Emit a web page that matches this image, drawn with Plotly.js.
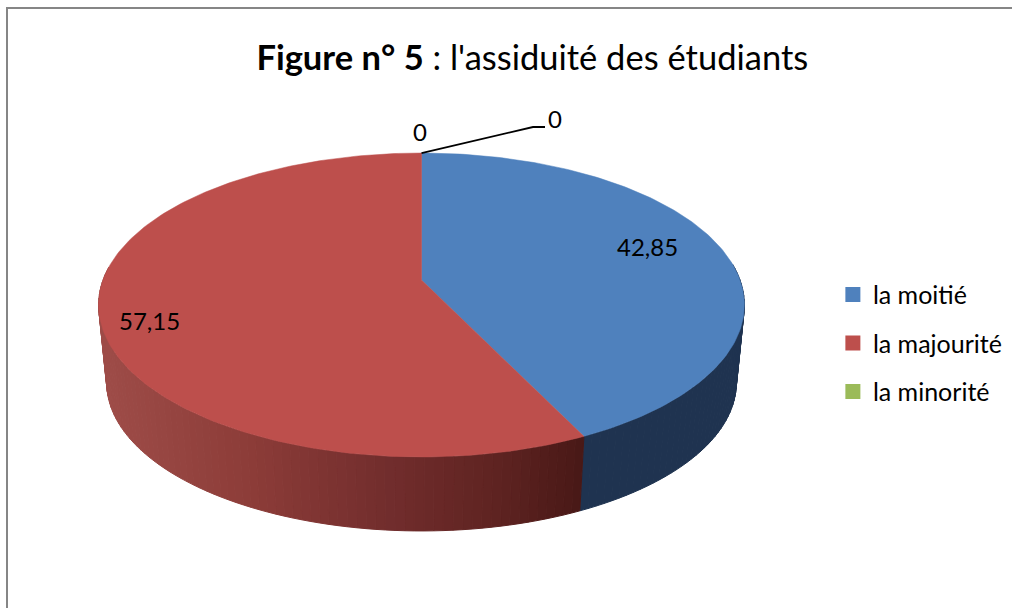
<!DOCTYPE html>
<html>
<head>
<meta charset="utf-8">
<script src="https://cdn.plot.ly/plotly-3.0.1.min.js"></script>
<style>html,body{margin:0;padding:0;background:#fff}</style>
</head>
<body>
<div id="chart" style="width:1012px;height:608px"></div>
<script>
// chart values
const categories = ['la moitié', 'la majourité', 'la minorité', ''];
const shares = [42.85, 57.15, 0, 0];
const topColors = ['#4f81bd', '#bd4f4c', '#9bbb59', '#8064a2'];

// tilted disc, the axes below run in page pixels
const cx = 421.5, apexY = 280, radius = 318.5;
const tiltA = -101.8, tiltC = 0.1645;
const lowerY = 358.4, lowerScale = 0.975;

function rimTop(deg) {
    const a = deg * Math.PI / 180, u = Math.sin(a), v = Math.cos(a);
    const w = 1 + tiltC * v;
    return [cx + radius * u / w, (tiltA * v + apexY) / w];
}
function rimBottom(deg) {
    const p = rimTop(deg);
    return [cx + lowerScale * (p[0] - cx), lowerY + lowerScale * (p[1] - apexY)];
}

// shade of the side wall, left to right
const redStops = [[100, [158, 76, 72]], [250, [140, 60, 56]], [385, [114, 45, 45]], [500, [94, 35, 33]], [585, [72, 24, 22]]];
function redWall(x) {
    let i = 0;
    while (i < redStops.length - 2 && x > redStops[i + 1][0]) i++;
    const [x0, c0] = redStops[i], [x1, c1] = redStops[i + 1];
    const t = Math.max(0, Math.min(1, (x - x0) / (x1 - x0)));
    return 'rgb(' + c0.map((c, k) => Math.round(c + (c1[k] - c) * t)).join(',') + ')';
}

const traces = [];
const total = shares.reduce((a, b) => a + b, 0);
const sliceStart = [];
let acc = 0;
shares.forEach(s => { sliceStart.push(acc / total * 360); acc += s; });

// side wall strips
shares.forEach((s, i) => {
    const a0 = sliceStart[i], a1 = a0 + s / total * 360;
    const n = Math.ceil((a1 - a0) / 1.5);
    for (let k = 0; k < n; k++) {
        const d0 = a0 + (a1 - a0) * k / n, d1 = a0 + (a1 - a0) * (k + 1) / n;
        if (Math.cos((d0 + d1) / 2 * Math.PI / 180) > 0.1) continue;
        const p = [rimTop(d0), rimTop(d1), rimBottom(d1), rimBottom(d0), rimTop(d0)];
        const color = i === 0 ? '#1f3350' : redWall((p[0][0] + p[1][0]) / 2);
        traces.push({
            x: p.map(q => q[0]), y: p.map(q => q[1]),
            mode: 'lines', fill: 'toself', fillcolor: color,
            line: {color: color, width: 1},
            showlegend: false, hoverinfo: 'skip'
        });
    }
});

// top faces
shares.forEach((s, i) => {
    if (s === 0) return;
    const a0 = sliceStart[i], a1 = a0 + s / total * 360;
    const xs = [cx], ys = [apexY];
    for (let d = a0; d < a1; d += 1) {
        const p = rimTop(d);
        xs.push(p[0]); ys.push(p[1]);
    }
    const end = rimTop(a1);
    xs.push(end[0], cx); ys.push(end[1], apexY);
    traces.push({
        x: xs, y: ys, mode: 'lines', fill: 'toself', fillcolor: topColors[i],
        line: {color: topColors[i], width: 0.5},
        name: categories[i], showlegend: false, hoverinfo: 'name'
    });
});

// legend entries
categories.forEach((c, i) => {
    if (!c) return;
    traces.push({
        x: [-200], y: [-200], mode: 'markers', name: c, legendgroup: c,
        marker: {symbol: 'square', size: 15, color: topColors[i]},
        hoverinfo: 'skip'
    });
});

// leader line of the last label
const start = rimTop(0);
traces.push({
    x: [start[0], 533, 545], y: [start[1], 127, 127], mode: 'lines',
    line: {color: '#000', width: 1.8}, showlegend: false, hoverinfo: 'skip'
});

const labelText = shares.map(v => String(v).replace('.', ','));
const labelPos = [[647, 246], [149, 320], [420, 131], [555, 118]];
const annotations = labelText.map((t, i) => ({
    text: t, x: labelPos[i][0], y: labelPos[i][1],
    xref: 'x', yref: 'y', showarrow: false,
    xanchor: 'center', yanchor: 'middle'
}));

const layout = {
    width: 1012, height: 608,
    margin: {l: 0, r: 0, t: 0, b: 0},
    paper_bgcolor: '#fff', plot_bgcolor: '#fff',
    font: {family: 'Lato, Carlito, sans-serif', size: 24, color: '#000'},
    title: {
        text: "<b>Figure n° 5</b> : l'assiduité des étudiants",
        font: {family: 'Lato, sans-serif', size: 34.5, color: '#000'},
        x: 0.526, xanchor: 'center', y: 0.904, yanchor: 'middle'
    },
    xaxis: {range: [0, 1012], visible: false, fixedrange: true},
    yaxis: {range: [608, 0], visible: false, fixedrange: true},
    legend: {
        x: 0.823, y: 0.553, xanchor: 'left', yanchor: 'top',
        tracegroupgap: 13, itemwidth: 30,
        font: {size: 25}, bgcolor: 'rgba(0,0,0,0)'
    },
    annotations: annotations,
    shapes: [{
        type: 'path', xref: 'x', yref: 'y',
        path: 'M 7 608 L 7 8 L 1012 8',
        line: {color: '#868686', width: 2}
    }]
};

Plotly.newPlot('chart', traces, layout, {displayModeBar: false, responsive: false});
</script>
</body>
</html>
